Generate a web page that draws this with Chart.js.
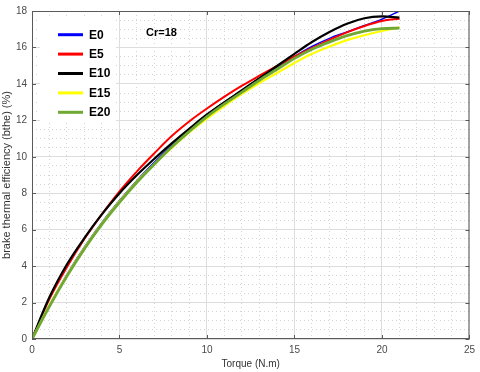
<!DOCTYPE html>
<html>
<head>
<meta charset="utf-8">
<script src="https://cdn.jsdelivr.net/npm/chart.js@4.4.0/dist/chart.umd.min.js"></script>
<style>
  html, body { margin: 0; padding: 0; background: #fff; }
</style>
</head>
<body>
<canvas id="grafico" width="480" height="372"></canvas>
<script>
// dados (torque em N.m, bthe em %)
const torque = [0, 1, 2, 3, 4, 5, 6, 7, 8, 9, 10, 11, 12, 13, 14, 15, 16, 17, 18, 19, 20, 21];
const e0  = [0, 1.85, 3.55, 5.05, 6.4, 7.6, 8.7, 9.7, 10.65, 11.5, 12.3, 13.0, 13.65, 14.3, 14.9, 15.5, 16.05, 16.5, 16.85, 17.2, 17.55, 18.0];
const e5  = [0, 2.2, 3.95, 5.5, 6.85, 8.1, 9.2, 10.2, 11.15, 11.95, 12.65, 13.3, 13.9, 14.45, 14.98, 15.5, 15.97, 16.42, 16.83, 17.18, 17.45, 17.58];
const e10 = [0, 2.3, 4.1, 5.55, 6.85, 8.0, 9.0, 9.9, 10.75, 11.55, 12.32, 13.0, 13.65, 14.32, 14.98, 15.65, 16.3, 16.85, 17.3, 17.6, 17.7, 17.64];
const e15 = [0, 1.85, 3.5, 5.0, 6.35, 7.55, 8.65, 9.6, 10.5, 11.35, 12.1, 12.8, 13.45, 14.05, 14.6, 15.15, 15.65, 16.05, 16.4, 16.67, 16.9, 17.1];
const e20 = [0, 1.8, 3.45, 4.95, 6.3, 7.5, 8.6, 9.6, 10.55, 11.4, 12.2, 12.9, 13.55, 14.2, 14.8, 15.4, 15.9, 16.3, 16.65, 16.9, 17.03, 17.06];

const nomes = ['E0', 'E5', 'E10', 'E15', 'E20'];
const series = [e0, e5, e10, e15, e20];
const cores = ['#0000ff', '#ff0000', '#000000', '#ffff00', '#6fa832'];
const espessuras = [1.5, 2, 2.2, 2.2, 2.8];

const xTicksMaiores = [0, 5, 10, 15, 20, 25];
const yTicksMaiores = [0, 2, 4, 6, 8, 10, 12, 14, 16, 18];
const anotacao = { texto: 'Cr=18', x: 6.52, y: 16.78 };

const fonte = "'Liberation Sans', Arial, sans-serif";

// monta os datasets a partir dos arrays
const datasets = series.map((s, i) => ({
  label: nomes[i],
  data: torque.map((t, k) => ({ x: t, y: s[k] })),
  borderColor: cores[i],
  backgroundColor: cores[i],
  borderWidth: espessuras[i],
  pointRadius: 0,
  tension: 0.35,
  fill: false,
  order: series.length - i // E20 desenhado por cima
}));

// moldura + marcas internas estilo matlab
const molduraPlugin = {
  id: 'moldura',
  afterDatasetsDraw(chart) {
    const { ctx, chartArea: a, scales } = chart;
    ctx.save();
    ctx.strokeStyle = '#5a5a5a';
    ctx.lineWidth = 1;
    ctx.strokeRect(a.left + 0.5, a.top + 0.5, a.right - a.left - 1, a.bottom - a.top - 1);
    ctx.beginPath();
    for (const v of xTicksMaiores) {
      const px = Math.round(scales.x.getPixelForValue(v)) + 0.5;
      ctx.moveTo(px, a.bottom); ctx.lineTo(px, a.bottom - 4);
      ctx.moveTo(px, a.top); ctx.lineTo(px, a.top + 4);
    }
    for (const v of yTicksMaiores) {
      const py = Math.round(scales.y.getPixelForValue(v)) + 0.5;
      ctx.moveTo(a.left, py); ctx.lineTo(a.left + 4, py);
      ctx.moveTo(a.right, py); ctx.lineTo(a.right - 4, py);
    }
    ctx.stroke();
    ctx.restore();
  }
};

// legenda dentro da área do gráfico
const legendaPlugin = {
  id: 'legenda',
  afterDraw(chart) {
    const { ctx, chartArea: a, scales } = chart;
    const x0 = a.left + 8, y0 = a.top + 8;
    ctx.save();
    ctx.fillStyle = '#ffffff';
    ctx.fillRect(x0, y0, 76, 102);
    ctx.font = 'bold 12px ' + fonte;
    ctx.textBaseline = 'middle';
    ctx.textAlign = 'left';
    chart.data.datasets.forEach((ds, i) => {
      const y = y0 + 15.7 + i * 19.4;
      ctx.strokeStyle = ds.borderColor;
      ctx.lineWidth = 3;
      ctx.beginPath();
      ctx.moveTo(x0 + 18, y);
      ctx.lineTo(x0 + 43, y);
      ctx.stroke();
      ctx.fillStyle = '#000';
      ctx.fillText(ds.label, x0 + 49, y + 0.5);
    });
    ctx.font = 'bold 11px ' + fonte;
    ctx.fillText(anotacao.texto, scales.x.getPixelForValue(anotacao.x), scales.y.getPixelForValue(anotacao.y));
    ctx.restore();
  }
};

const ehMaior = (v, passo) => Math.abs(v / passo - Math.round(v / passo)) < 1e-9;

new Chart(document.getElementById('grafico'), {
  type: 'line',
  data: { datasets: datasets },
  options: {
    responsive: false,
    animation: false,
    layout: { padding: { top: 7, right: 8, left: 0, bottom: 0 } },
    plugins: {
      legend: { display: false },
      tooltip: { enabled: false }
    },
    scales: {
      x: {
        type: 'linear',
        min: 0,
        max: 25,
        afterFit: s => { s.height = 33; },
        ticks: {
          stepSize: 1,
          autoSkip: false,
          maxRotation: 0,
          padding: 5,
          color: '#4a4a4a',
          font: { family: fonte, size: 10 },
          callback: v => ehMaior(v, 5) ? v : ''
        },
        grid: {
          drawTicks: false,
          color: ctx => ctx.tick && ehMaior(ctx.tick.value, 5) ? '#dddddd' : '#d4d4d4',
          lineWidth: 1
        },
        border: {
          display: false,
          dash: ctx => ctx.tick && ehMaior(ctx.tick.value, 5) ? [] : [1, 3]
        },
        title: {
          display: true,
          text: 'Torque (N.m)',
          color: '#333',
          font: { family: fonte, size: 10 },
          padding: { top: 0, bottom: 2 }
        }
      },
      y: {
        min: 0,
        max: 18,
        afterFit: s => { s.width = 32; },
        ticks: {
          stepSize: 0.5,
          autoSkip: false,
          padding: 5,
          color: '#4a4a4a',
          font: { family: fonte, size: 10 },
          callback: v => ehMaior(v, 2) ? v : ''
        },
        grid: {
          drawTicks: false,
          color: ctx => ctx.tick && ehMaior(ctx.tick.value, 2) ? '#dddddd' : '#d4d4d4',
          lineWidth: 1
        },
        border: {
          display: false,
          dash: ctx => ctx.tick && ehMaior(ctx.tick.value, 2) ? [] : [1, 3]
        },
        title: {
          display: true,
          text: 'brake thermal efficiency (bthe) (%)',
          color: '#333',
          font: { family: fonte, size: 11 },
          padding: { top: 0, bottom: 0 }
        }
      }
    }
  },
  plugins: [molduraPlugin, legendaPlugin]
});
</script>
</body>
</html>
